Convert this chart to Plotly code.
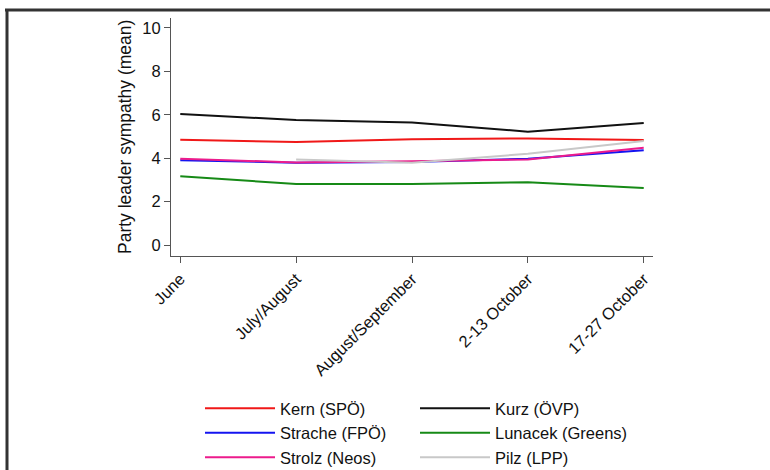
import plotly.graph_objects as go

periods = ["June", "July/August", "August/September", "2-13 October", "17-27 October"]

kern = [4.85, 4.74, 4.87, 4.91, 4.84]
kurz = [6.03, 5.76, 5.64, 5.22, 5.62]
strache = [3.91, 3.79, 3.83, 3.97, 4.36]
lunacek = [3.17, 2.81, 2.81, 2.89, 2.63]
strolz = [3.98, 3.80, 3.86, 3.94, 4.48]
pilz = [None, 3.94, 3.79, 4.20, 4.79]

series = [
    ("Kern (SPÖ)", kern, "#f01818", "legend"),
    ("Kurz (ÖVP)", kurz, "#111111", "legend2"),
    ("Strache (FPÖ)", strache, "#1414f0", "legend"),
    ("Lunacek (Greens)", lunacek, "#168a16", "legend2"),
    ("Strolz (Neos)", strolz, "#ec1b8c", "legend"),
    ("Pilz (LPP)", pilz, "#c8c8c8", "legend2"),
]

W, H = 770, 470
ML, MR, MT, MB = 171, 117, 18, 214
PW, PH = W - ML - MR, H - MT - MB

fig = go.Figure()
for name, vals, color, lg in series:
    fig.add_trace(go.Scatter(
        x=periods, y=vals, name=name, mode="lines",
        line=dict(color=color, width=2), legend=lg,
    ))

font = dict(family="Liberation Sans, Arial, sans-serif", size=15, color="#111111")

def px2paper_x(px):
    return (px - ML) / PW

def px2paper_y(py):
    return (H - MB - py) / PH

fig.update_layout(
    width=W, height=H,
    margin=dict(l=ML, r=MR, t=MT, b=MB, autoexpand=False),
    paper_bgcolor="white", plot_bgcolor="white",
    font=font,
    showlegend=True,
    legend=dict(xref="container", yref="container", x=200 / W, y=1 - 391 / H,
                xanchor="left", yanchor="top", font=dict(size=16.5),
                bgcolor="rgba(0,0,0,0)", itemwidth=70, tracegroupgap=0),
    legend2=dict(xref="container", yref="container", x=415 / W, y=1 - 391 / H,
                 xanchor="left", yanchor="top", font=dict(size=16.5),
                 bgcolor="rgba(0,0,0,0)", itemwidth=70, tracegroupgap=0),
    xaxis=dict(
        type="category", range=[-0.08, 4.08],
        showline=True, linecolor="#555555", linewidth=1,
        ticks="outside", ticklen=6, tickcolor="#555555",
        tickangle=-45, showgrid=False, zeroline=False,
        tickfont=dict(size=16.5), automargin=False,
    ),
    yaxis=dict(
        range=[-0.5, 10.45], tickvals=[0, 2, 4, 6, 8, 10],
        showline=True, linecolor="#555555", linewidth=1,
        ticks="outside", ticklen=6, tickcolor="#555555",
        showgrid=False, zeroline=False,
        tickfont=dict(size=16.5), automargin=False,
    ),
    annotations=[
        dict(text="Party leader sympathy (mean)", textangle=-90,
             xref="paper", yref="paper", x=px2paper_x(125), y=0.5,
             xanchor="center", yanchor="middle", showarrow=False,
             font=dict(size=17.5)),
    ],
    shapes=[
        dict(type="line", xref="paper", yref="paper",
             x0=px2paper_x(5), x1=px2paper_x(772), y0=px2paper_y(10), y1=px2paper_y(10),
             line=dict(color="#333333", width=3)),
        dict(type="line", xref="paper", yref="paper",
             x0=px2paper_x(7), x1=px2paper_x(7), y0=px2paper_y(9), y1=px2paper_y(472),
             line=dict(color="#333333", width=3)),
    ],
)

fig.write_html("out.html", config={"displayModeBar": False},
               post_script="document.body.style.margin='0';document.body.style.overflow='hidden';")
